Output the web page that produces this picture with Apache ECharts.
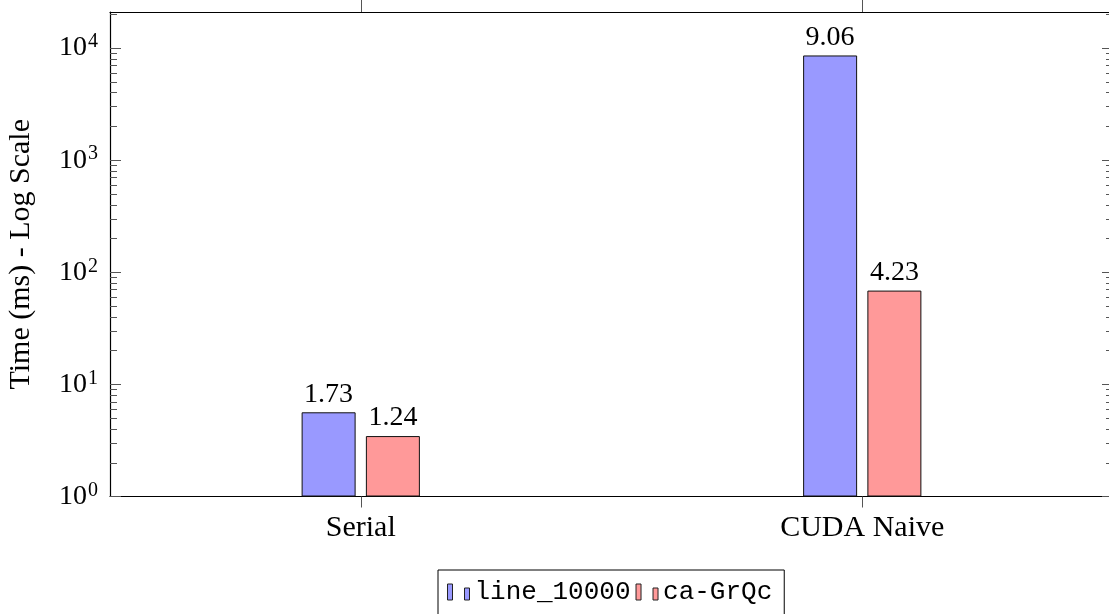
<!DOCTYPE html>
<html>
<head>
<meta charset="utf-8">
<script src="https://cdn.jsdelivr.net/npm/echarts@6/dist/echarts.min.js"></script>
<style>html,body{margin:0;padding:0;background:#fff}#c{width:1109px;height:614px}</style>
</head>
<body>
<div id="c"></div>
<script>
const categories = ['Serial', 'CUDA Naive'];
const seriesNames = ['line_10000', 'ca-GrQc'];
const line10000 = [5.64, 8600];
const caGrQc = [3.46, 68.7];
const line10000Labels = ['1.73', '9.06'];
const caGrQcLabels = ['1.24', '4.23'];
const yMajorTicks = [1, 10, 100, 1000, 10000];
const yMinorTicks = [2,3,4,5,6,7,8,9, 20,30,40,50,60,70,80,90, 200,300,400,500,600,700,800,900, 2000,3000,4000,5000,6000,7000,8000,9000, 20000];
const yMin = 1, yMax = 21000;
const yTitle = 'Time (ms) - Log Scale';

const SERIF = "'Liberation Serif', 'Times New Roman', serif";
const MONO = "'Liberation Mono', 'DejaVu Sans Mono', monospace";

const chart = echarts.init(document.getElementById('c'), null, {renderer: 'canvas'});

function yAxisDef(pos, ticks, len, showLabels, showLine) {
  return {
    type: 'log', logBase: 10, min: yMin, max: yMax, position: pos,
    axisLine: {show: showLine, lineStyle: {color: '#000', width: 1.2}},
    axisTick: {show: true, inside: true, length: len, customValues: ticks, lineStyle: {color: '#555', width: 1}},
    axisLabel: showLabels ? {
      show: true, margin: 12, customValues: yMajorTicks,
      formatter: v => '{b|10}{s|' + Math.round(Math.log10(v)) + '}',
      rich: {
        b: {fontFamily: SERIF, fontSize: 28, color: '#000'},
        s: {fontFamily: SERIF, fontSize: 20, color: '#000', padding: [0, 0, 12, 1]}
      }
    } : {show: false},
    splitLine: {show: false},
    minorTick: {show: false},
    name: showLabels ? yTitle : '',
    nameLocation: 'middle', nameGap: 74, nameRotate: 90,
    nameTextStyle: {fontFamily: SERIF, fontSize: 30, color: '#000'}
  };
}

function labelFor(arr) {
  return {
    show: true, position: 'top', distance: 4,
    fontFamily: SERIF, fontSize: 28, color: '#000',
    formatter: p => arr[p.dataIndex]
  };
}

const legendIcon = 'path://M0,0 h5 v16 h-5 Z M17,4 h5 v12 h-5 Z';

chart.setOption({
  animation: false,
  backgroundColor: '#fff',
  grid: {left: 110, right: -4, top: 12, bottom: 117.5, containLabel: false, outerBoundsMode: 'none'},
  xAxis: [
    {
      type: 'category', data: categories, position: 'bottom', boundaryGap: true,
      axisLine: {show: true, lineStyle: {color: '#000', width: 1.2}},
      axisTick: {show: true, alignWithLabel: true, inside: false, length: 11, lineStyle: {color: '#555', width: 1}},
      axisLabel: {margin: 17, fontFamily: SERIF, fontSize: 30, color: '#000'},
      splitLine: {show: false}
    },
    {
      type: 'category', data: categories, position: 'top', boundaryGap: true,
      axisLine: {show: true, lineStyle: {color: '#000', width: 1.2}},
      axisTick: {show: true, alignWithLabel: true, inside: false, length: 12, lineStyle: {color: '#555', width: 1}},
      axisLabel: {show: false},
      splitLine: {show: false}
    }
  ],
  yAxis: [
    yAxisDef('left', yMajorTicks, 11, true, true),
    yAxisDef('left', yMinorTicks, 7, false, false),
    yAxisDef('right', yMajorTicks, 11, false, true),
    yAxisDef('right', yMinorTicks, 7, false, false)
  ],
  legend: {
    show: true, left: 438, top: 570, orient: 'horizontal',
    data: seriesNames,
    icon: legendIcon, itemWidth: 22, itemHeight: 16, itemGap: 5,
    padding: [9, 12, 12, 9],
    borderColor: '#000', borderWidth: 1, backgroundColor: '#fff',
    textStyle: {fontFamily: MONO, fontSize: 26, color: '#000'},
    itemStyle: {borderColor: '#222', borderWidth: 1}
  },
  series: [
    {
      name: seriesNames[0], type: 'bar', data: line10000, xAxisIndex: 0, yAxisIndex: 0,
      barWidth: 54, barGap: '19%',
      itemStyle: {color: '#9999ff', borderColor: '#111', borderWidth: 1},
      label: labelFor(line10000Labels)
    },
    {
      name: seriesNames[1], type: 'bar', data: caGrQc, xAxisIndex: 0, yAxisIndex: 0,
      barWidth: 54, barGap: '19%',
      itemStyle: {color: '#ff9999', borderColor: '#111', borderWidth: 1},
      label: labelFor(caGrQcLabels)
    }
  ]
});
</script>
</body>
</html>
